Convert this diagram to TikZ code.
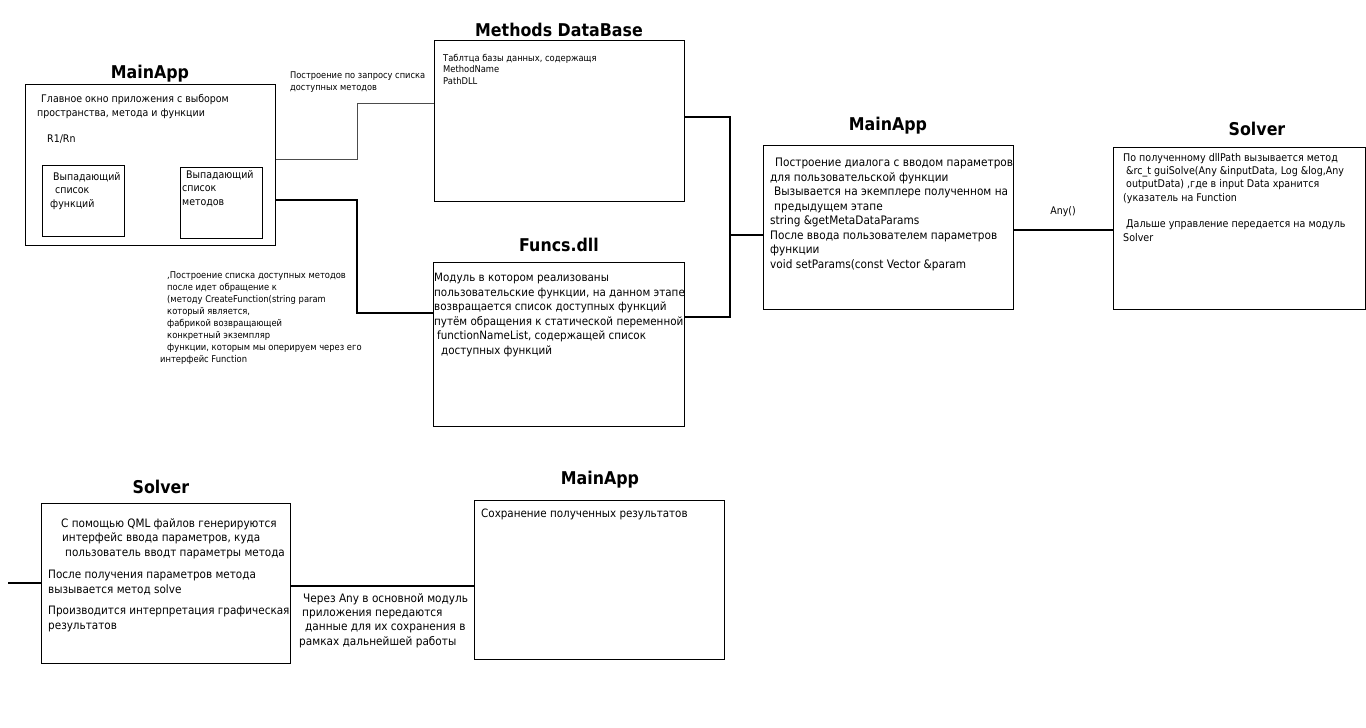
\documentclass[tikz,border=0pt]{standalone}
\usepackage{fontspec}
\setmainfont{DejaVu Sans}
\newfontfamily\bodyfont[FakeStretch=0.9]{DejaVu Sans}
\newcommand{\fs}[2]{\bodyfont\fontsize{#1}{#2}\selectfont}
\begin{document}
\begin{tikzpicture}[x=1pt,y=-1pt,
  box/.style={draw, line width=0.8pt, inner sep=0, anchor=north west},
  ttl/.style={font=\bodyfont\bfseries\fontsize{17.6}{20}\selectfont, inner sep=0},
  txt/.style={inner sep=0, anchor=north west, align=left},
  thickc/.style={line width=1.8pt},
  thinc/.style={line width=0.9pt, draw=black!70}]
\fill[white] (0,0) rectangle (1366,728);
\useasboundingbox (0,0) rectangle (1366,728);

% boxes
\node[box, minimum width=250, minimum height=161] (ma1) at (25,84) {};
\node[box, minimum width=82, minimum height=71] (lst1) at (42,165) {};
\node[box, minimum width=82, minimum height=71] (lst2) at (180,167) {};
\node[box, minimum width=250, minimum height=161] (db) at (434,40) {};
\node[box, minimum width=251, minimum height=164] (fd) at (433,262) {};
\node[box, minimum width=250, minimum height=164] (ma2) at (763,145) {};
\node[box, minimum width=252, minimum height=162] (sv1) at (1113,147) {};
\node[box, minimum width=249, minimum height=160] (sv2) at (41,503) {};
\node[box, minimum width=250, minimum height=159] (ma3) at (474,500) {};

% titles
\node[ttl] (t1) at (150,74) {MainApp};
\node[ttl] (t2) at (559,30) {Methods DataBase};
\node[ttl] (t3) at (559,245) {Funcs.dll};
\node[ttl] (t4) at (888,126) {MainApp};
\node[ttl] (t5) at (1257,129) {Solver};
\node[ttl] (t6) at (161,487) {Solver};
\node[ttl] (t7) at (600,480) {MainApp};

% texts
\node[txt, font=\fs{10.5}{14}] (x1) at (37,94) {\hspace*{4pt}Главное окно приложения с выбором\\пространства, метода и функции};
\node[txt, font=\fs{10.5}{14}] (x2) at (47,135) {R1/Rn};
\node[txt, font=\fs{10.5}{13.5}] (x3) at (50,172) {\hspace*{3pt}Выпадающий\\\hspace*{5pt}список\\функций};
\node[txt, font=\fs{10.5}{13.5}] (x4) at (182,170) {\hspace*{4pt}Выпадающий\\список\\методов};
\node[txt, font=\fs{9.2}{12}] (x5) at (290,72) {Построение по запросу списка\\доступных методов};
\node[txt, font=\fs{9.3}{11.5}] (x6) at (443,54) {Таблтца базы данных, содержащя\\MethodName\\PathDLL};
\node[txt, font=\fs{9.3}{11.9}] (x7) at (160,272) {\hspace*{7pt},Построение списка доступных методов\\\hspace*{7pt}после идет обращение к\\\hspace*{7pt}(методу CreateFunction(string param\\\hspace*{7pt}который является,\\\hspace*{7pt}фабрикой возвращающей\\\hspace*{7pt}конкретный экземпляр\\\hspace*{7pt}функции, которым мы оперируем через его\\интерфейс Function};
\node[txt, font=\fs{11.5}{14.6}] (x8) at (434,273) {Модуль в котором реализованы\\пользовательские функции, на данном этапе\\возвращается список доступных функций\\путём обращения к статической переменной\\\hspace*{3pt}functionNameList, содержащей список\\\hspace*{7pt}доступных функций};
\node[txt, font=\fs{11.7}{14.5}] (x9) at (770,158) {\hspace*{5pt}Построение диалога с вводом параметров\\для пользовательской функции\\\hspace*{4pt}Вызывается на экемплере полученном на\\\hspace*{4pt}предыдущем этапе\\string \&getMetaDataParams\\После ввода пользователем параметров\\функции\\void setParams(const Vector \&param};
\node[font=\fs{10.5}{12}, inner sep=0] (x10) at (1063,212) {Any()};
\node[txt, font=\fs{10.6}{13.3}] (x11) at (1123,153) {По полученному dllPath вызывается метод\\\hspace*{3pt}\&rc\_t guiSolve(Any \&inputData, Log \&log,Any\\\hspace*{3pt}outputData) ,где в input Data хранится\\(указатель на Function\\[13.3pt]\hspace*{3pt}Дальше управление передается на модуль\\Solver};
\node[txt, font=\fs{11.6}{14.5}] (x12) at (61,518) {С помощью QML файлов генерируются\\\hspace*{1pt}интерфейс ввода параметров, куда\\\hspace*{4pt}пользователь вводт параметры метода};
\node[txt, font=\fs{11.6}{14.5}] (x13) at (48,570) {После получения параметров метода\\вызывается метод solve};
\node[txt, font=\fs{11.6}{14.5}] (x14) at (48,606) {Производится интерпретация графическая\\результатов};
\node[txt, font=\fs{11.7}{14.4}] (x15) at (299,593) {\hspace*{4pt}Через Any в основной модуль\\\hspace*{3pt}приложения передаются\\\hspace*{6pt}данные для их сохранения в\\рамках дальнейшей работы};
\node[txt, font=\fs{11.5}{14.4}] (x16) at (481,509) {Сохранение полученных результатов};

% connector points
\coordinate (b1) at (357,103);
\coordinate (b2) at (357,313);
\coordinate (r1) at (730,117);
\coordinate (r2) at (730,317);
\coordinate (r3) at (730,235);
\coordinate (lft) at (8,583);

% connectors
\draw[thinc] (ma1.east |- 0,159) -| (b1) -- (db.west |- b1);
\draw[thickc] (ma1.east |- 0,200) -| (b2) -- (fd.west |- b2);
\draw[thickc] (db.east |- r1) -- (r1) -- (r2) -- (fd.east |- r2);
\draw[thickc] (r3) -- (ma2.west |- r3);
\draw[thickc] (ma2.east |- 0,230) -- (sv1.west |- 0,230);
\draw[thickc] (lft) -- (sv2.west |- lft);
\draw[thickc] (sv2.east |- 0,586) -- (ma3.west |- 0,586);
\end{tikzpicture}
\end{document}
